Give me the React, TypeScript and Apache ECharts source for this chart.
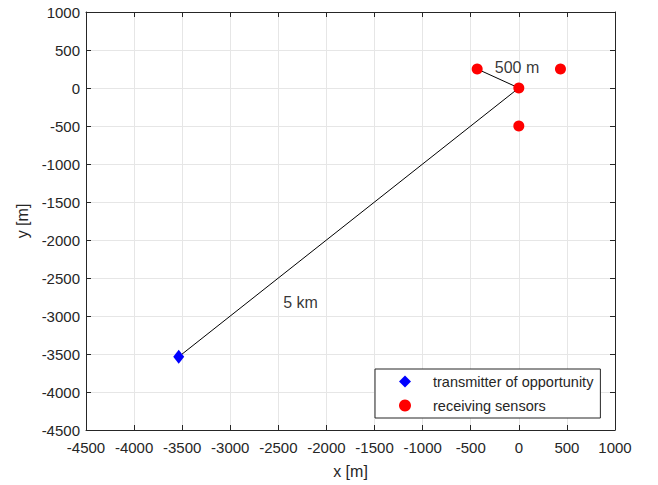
import React, { useEffect, useRef } from "react";
import * as echarts from "echarts";

const transmitter: number[][] = [[-3536, -3536]];
const receivers: number[][] = [[0, 0], [-433, 250], [433, 250], [0, -500]];
const linkLine: number[][] = [[-3536, -3536], [0, 0]];
const baselineLine: number[][] = [[0, 0], [-433, 250]];
const annotations: (number | string)[][] = [[-250, 270, "500 m"], [-2450, -2820, "5 km"]];
const axisMin = -4500;
const axisMax = 1000;
const axisStep = 500;

const FONT = "'Liberation Sans', Arial, Helvetica, sans-serif";
const AXIS_COLOR = "#262626";

export default function App() {
  const ref = useRef<HTMLDivElement>(null);
  useEffect(() => {
    if (!ref.current) return;
    const chart = echarts.init(ref.current, null, { renderer: "svg" });
    const tick = { show: true, inside: true, length: 5, lineStyle: { color: AXIS_COLOR, width: 1 } };
    const line = { show: true, onZero: false, lineStyle: { color: AXIS_COLOR, width: 1 } };
    const label = { color: AXIS_COLOR, fontSize: 15, fontFamily: FONT, formatter: (v: number) => String(v) };
    const split = { show: true, lineStyle: { color: "#e6e6e6", width: 1 } };
    chart.setOption({
      animation: false,
      backgroundColor: "#ffffff",
      grid: { left: 86, right: 43, top: 12, bottom: 55, containLabel: false },
      xAxis: [
        {
          type: "value", min: axisMin, max: axisMax, interval: axisStep, position: "bottom",
          axisLine: line, axisTick: tick, axisLabel: { ...label, margin: 10 }, splitLine: split,
          name: "x [m]", nameLocation: "middle", nameGap: 33,
          nameTextStyle: { color: AXIS_COLOR, fontSize: 16, fontFamily: FONT },
        },
        {
          type: "value", min: axisMin, max: axisMax, interval: axisStep, position: "top",
          axisLine: line, axisTick: tick, axisLabel: { show: false }, splitLine: { show: false },
        },
      ],
      yAxis: [
        {
          type: "value", min: axisMin, max: axisMax, interval: axisStep, position: "left",
          axisLine: line, axisTick: tick, axisLabel: { ...label, margin: 6 }, splitLine: split,
          name: "y [m]", nameLocation: "middle", nameGap: 56, nameRotate: 90,
          nameTextStyle: { color: AXIS_COLOR, fontSize: 16, fontFamily: FONT },
        },
        {
          type: "value", min: axisMin, max: axisMax, interval: axisStep, position: "right",
          axisLine: line, axisTick: tick, axisLabel: { show: false }, splitLine: { show: false },
        },
      ],
      legend: {
        data: ["transmitter of opportunity", "receiving sensors"],
        orient: "vertical",
        left: 375,
        top: 369,
        padding: [5, 7, 5, 24],
        itemWidth: 12,
        itemHeight: 12,
        itemGap: 9,
        selectedMode: false,
        backgroundColor: "#ffffff",
        borderColor: "#262626",
        borderWidth: 1,
        borderRadius: 0,
        textStyle: { color: AXIS_COLOR, fontSize: 14.5, fontFamily: FONT, padding: [0, 0, 0, 17] },
      },
      series: [
        {
          type: "line", data: linkLine, showSymbol: false, symbol: "none", silent: true,
          lineStyle: { color: "#000000", width: 1 }, z: 2,
        },
        {
          type: "line", data: baselineLine, showSymbol: false, symbol: "none", silent: true,
          lineStyle: { color: "#000000", width: 1 }, z: 2,
        },
        {
          name: "transmitter of opportunity", type: "scatter", data: transmitter,
          symbol: "diamond", symbolSize: [11, 14], itemStyle: { color: "#0000ff", opacity: 1 }, z: 5,
        },
        {
          name: "receiving sensors", type: "scatter", data: receivers,
          symbol: "circle", symbolSize: 11, itemStyle: { color: "#ff0000", opacity: 1 }, z: 5,
        },
        {
          type: "scatter", data: annotations, symbolSize: 0, silent: true, z: 6,
          label: {
            show: true, position: [0, 0], align: "left", verticalAlign: "middle",
            formatter: (p: any) => p.data[2], color: "#000000", fontSize: 16, fontFamily: FONT,
          },
        },
      ],
    });
    return () => chart.dispose();
  }, []);
  return (
    <div
      ref={ref}
      style={{ position: "fixed", left: 0, top: 0, width: 658, height: 485 }}
    />
  );
}
